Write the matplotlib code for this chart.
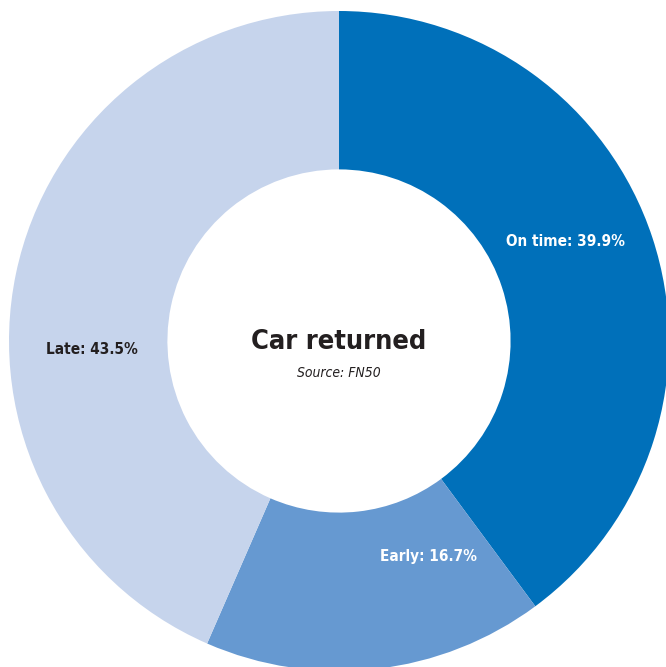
import matplotlib.pyplot as plt

# Share of cars returned, by timing
categories = ['On time', 'Early', 'Late']
shares = [39.9, 16.7, 43.5]
colors = ['#0070BA', '#6699D1', '#C6D4EC']
text_colors = ['white', 'white', '#231F20']

fig = plt.figure(figsize=(6.66, 6.67), dpi=100)
ax = fig.add_axes([0, 0, 1, 1])

cx, cy, r = 339, 326, 330
wedges, _ = ax.pie(shares, colors=colors, startangle=90, counterclock=False,
                   center=(cx, cy), radius=r, frame=True,
                   wedgeprops=dict(width=r * 0.48, linewidth=0))
ax.set_xlim(0, 666)
ax.set_ylim(0, 667)
ax.set_aspect('equal')
ax.axis('off')

font = dict(family='DejaVu Sans', stretch='condensed', fontweight='bold')
label_pos = [(565, 425), (428, 110), (92, 317)]
for name, val, (x, y), tc in zip(categories, shares, label_pos, text_colors):
    ax.text(x, y, f'{name}: {val}%', ha='center', va='center',
            fontsize=11, color=tc, **font)

ax.text(cx, 325, 'Car returned', ha='center', va='center', fontsize=19.5,
        color='#231F20', **font)
ax.text(cx, 294, 'Source: FN50', ha='center', va='center', fontsize=10,
        color='#231F20', family='DejaVu Sans', stretch='condensed',
        style='italic')

fig.savefig('out.png', dpi=100)
